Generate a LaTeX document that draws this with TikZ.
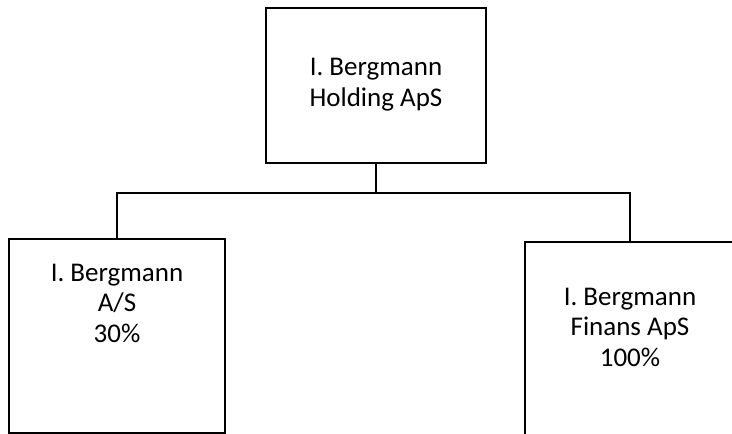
\documentclass[tikz,border=0pt]{standalone}
\usepackage{fontspec}
\setmainfont{Carlito}
\usepackage{tikz}
\usetikzlibrary{positioning}

\begin{document}
\begin{tikzpicture}[x=1pt,y=1pt]
		\tikzstyle{company} = [rectangle, draw=black, line width=1.8pt, inner sep=0pt]
		\tikzstyle{companytext} = [align=center, font=\fontsize{27}{30.5}\selectfont]
		\tikzstyle{line} = [line width=1.5pt]
		\useasboundingbox (0,0) rectangle (732,-434);
		\clip (0,0) rectangle (732,-434);
		\node (holding) [company, minimum width=220pt, minimum height=155pt] at (376,-85.5) {};
		\node (aps) [company, minimum width=216pt, minimum height=194pt] at (117,-336) {};
		\node (finans) [company, minimum width=210pt, minimum height=194pt] at (630,-339) {};
		\node (holdingText) [companytext] at ([yshift=1pt]holding.center) {I. Bergmann\\Holding ApS};
		\node (apsText) [companytext] at ([yshift=33pt]aps.center) {I. Bergmann\\A/S\\30\%};
		\node (finansText) [companytext] at ([yshift=12pt]finans.center) {I. Bergmann\\Finans ApS\\100\%};
		\coordinate (bus) at ([yshift=-29pt]holding.south);
		\draw [line] (holding.south) -- (bus);
		\draw [line] (aps.north) |- (bus) -| (finans.north);
		\end{tikzpicture}
\end{document}
